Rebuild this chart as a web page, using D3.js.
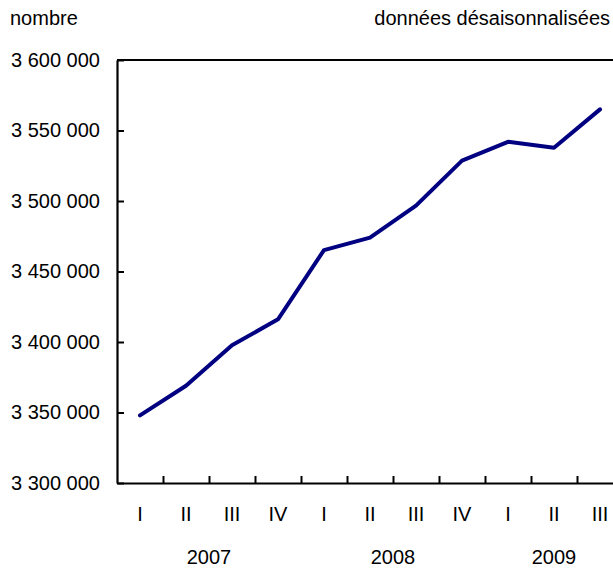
<!DOCTYPE html>
<html>
<head>
<meta charset="utf-8">
<script src="https://cdn.jsdelivr.net/npm/d3@7"></script>
<style>
  body { margin: 0; background: #fff; }
  svg { display: block; font-family: 'Liberation Sans', Arial, sans-serif; }
</style>
</head>
<body>
<div id="chart"></div>
<script>
const quarters = ['I', 'II', 'III', 'IV', 'I', 'II', 'III', 'IV', 'I', 'II', 'III']
const years = ['2007', '2007', '2007', '2007', '2008', '2008', '2008', '2008', '2009', '2009', '2009']
const values = [3348000, 3369000, 3397700, 3416100, 3465200, 3474000, 3496700, 3528600, 3542000, 3537800, 3565000]
const yTicks = [3300000, 3350000, 3400000, 3450000, 3500000, 3550000, 3600000]

const width = 613
const height = 571
const margin = { left: 117, top: 60, right: -10, bottom: 88 }
const fontSize = 20

const svg = d3.select('#chart')
  .append('svg')
  .attr('width', width)
  .attr('height', height)
  .style('font-size', fontSize + 'px')

const innerLeft = margin.left
const innerRight = width - margin.right
const innerTop = margin.top
const innerBottom = height - margin.bottom

const x = d3.scaleBand()
  .domain(d3.range(values.length))
  .range([innerLeft, innerRight])

const xEdge = d3.scaleLinear()
  .domain([0, values.length])
  .range([innerLeft, innerRight])

const y = d3.scaleLinear()
  .domain([yTicks[0], yTicks[yTicks.length - 1]])
  .range([innerBottom, innerTop])

const frLocale = d3.formatLocale({ decimal: ',', thousands: ' ', grouping: [3], currency: ['', ' $'] })
const fmt = frLocale.format(',')

// header texts
svg.append('text')
  .attr('x', 10)
  .attr('y', 25)
  .text('nombre')

svg.append('text')
  .attr('x', 610)
  .attr('y', 25)
  .attr('text-anchor', 'end')
  .text('données désaisonnalisées')

// y axis, ticks pointing inside
const yAxis = d3.axisLeft(y)
  .tickValues(yTicks)
  .tickFormat(fmt)
  .tickSize(-7)
  .tickSizeOuter(0)
  .tickPadding(17)

const gy = svg.append('g')
  .attr('transform', `translate(${innerLeft},0)`)
  .call(yAxis)
gy.selectAll('text').style('font-size', fontSize + 'px').attr('fill', '#000')
gy.selectAll('line').attr('stroke', '#000').attr('stroke-width', 2)
gy.select('.domain').attr('stroke', '#000').attr('stroke-width', 2.2)

// x tick marks at quarter boundaries
const xTickAxis = d3.axisBottom(xEdge)
  .tickValues(d3.range(1, values.length + 1))
  .tickFormat('')
  .tickSize(-7)
  .tickSizeOuter(0)

const gxt = svg.append('g')
  .attr('transform', `translate(0,${innerBottom})`)
  .call(xTickAxis)
gxt.selectAll('line').attr('stroke', '#000').attr('stroke-width', 2)
gxt.select('.domain').attr('stroke', '#000').attr('stroke-width', 2.2)

// quarter labels
const xAxis = d3.axisBottom(x)
  .tickFormat(i => quarters[i])
  .tickSize(0)
  .tickPadding(24)

const gx = svg.append('g')
  .attr('transform', `translate(0,${innerBottom})`)
  .call(xAxis)
gx.select('.domain').remove()
gx.selectAll('text').style('font-size', fontSize + 'px').attr('fill', '#000')

// year labels centred under their quarters
const yearGroups = d3.groups(d3.range(values.length), i => years[i])
svg.append('g')
  .selectAll('text')
  .data(yearGroups)
  .join('text')
  .attr('x', d => (xEdge(d[1][0]) + xEdge(d[1][d[1].length - 1] + 1)) / 2)
  .attr('y', 564)
  .attr('text-anchor', 'middle')
  .text(d => d[0])

// top frame line
svg.append('line')
  .attr('x1', innerLeft)
  .attr('x2', innerRight)
  .attr('y1', y(yTicks[yTicks.length - 1]))
  .attr('y2', y(yTicks[yTicks.length - 1]))
  .attr('stroke', '#000')
  .attr('stroke-width', 2.2)

// data line
const line = d3.line()
  .x((d, i) => x(i) + x.bandwidth() / 2)
  .y(d => y(d))

svg.append('path')
  .datum(values)
  .attr('fill', 'none')
  .attr('stroke', '#000080')
  .attr('stroke-width', 4)
  .attr('stroke-linejoin', 'round')
  .attr('stroke-linecap', 'round')
  .attr('d', line)
</script>
</body>
</html>
